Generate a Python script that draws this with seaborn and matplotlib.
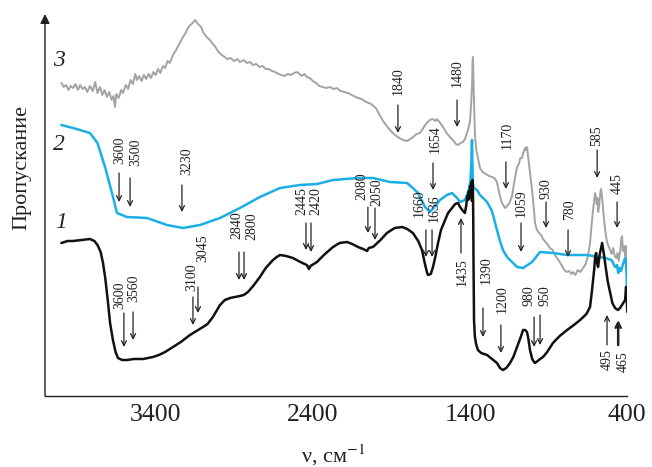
import matplotlib
matplotlib.use("Agg")
import matplotlib.pyplot as plt
import pandas as pd
import seaborn as sns

# ---- spectrum 3 (grey) : wavenumber, cm^-1 / transmittance, arb. units ----
wn_3 = [4000, 3985, 3970, 3955, 3940, 3926, 3910, 3895, 3880, 3865, 3850, 3835, 3818, 3800,
        3785, 3770, 3754, 3740, 3725, 3710, 3695, 3680, 3668, 3659, 3650, 3635, 3620, 3608,
        3590, 3575, 3560, 3545, 3530, 3519, 3505, 3490, 3475, 3460, 3445, 3430, 3415, 3400,
        3385, 3370, 3354, 3340, 3325, 3310, 3290, 3270, 3250, 3230, 3210, 3195, 3180, 3165,
        3150, 3140, 3125, 3110, 3099, 3085, 3070, 3055, 3036, 3020, 3000, 2980, 2960, 2946,
        2925, 2900, 2880, 2864, 2840, 2819, 2800, 2780, 2760, 2740, 2720, 2700, 2680, 2660,
        2640, 2620, 2600, 2580, 2560, 2540, 2520, 2501, 2485, 2470, 2455, 2438, 2420, 2400,
        2380, 2360, 2336, 2315, 2290, 2270, 2247, 2225, 2200, 2180, 2164, 2140, 2113, 2090,
        2060, 2030, 2000, 1975, 1954, 1930, 1910, 1891, 1870, 1850, 1827, 1800, 1770, 1740,
        1720, 1706, 1690, 1670, 1655, 1640, 1620, 1611, 1590, 1572, 1550, 1528, 1510, 1490,
        1477, 1460, 1445, 1433, 1420, 1410, 1401, 1393, 1388, 1384, 1382, 1380, 1377, 1373,
        1368, 1360, 1350, 1337, 1320, 1300, 1280, 1260, 1245, 1229, 1215, 1200, 1185, 1178,
        1165, 1150, 1133, 1118, 1101, 1090, 1080, 1070, 1060, 1051, 1045, 1038, 1031, 1020,
        1006, 995, 987, 975, 960, 945, 936, 920, 905, 892, 875, 860, 847, 830, 815, 800, 785,
        770, 755, 745, 730, 715, 700, 681, 665, 650, 637, 625, 615, 605, 600, 595, 590, 585,
        580, 570, 567, 560, 550, 541, 530, 520, 509, 500, 490, 480, 470, 462, 455, 445, 438,
        433, 428, 420, 414, 408, 404, 400]
tr_3 = [313, 309, 311, 306, 310, 308, 312, 306, 311, 307, 309, 304, 310, 305,
        314, 303, 309, 301, 306, 299, 304, 296, 300, 289, 302, 298, 306, 303,
        311, 307, 316, 312, 322, 316, 320, 315, 321, 317, 322, 318, 324, 321,
        327, 323, 330, 328, 335, 333, 341, 346, 352, 358, 363, 368, 371, 373,
        376, 374, 371, 369, 364, 361, 358, 356, 352, 349, 344, 341, 339, 337,
        338, 335, 337, 334, 336, 333, 334, 331, 332, 329, 330, 327, 327, 325,
        324, 322, 321, 320, 322, 321, 323, 324, 322, 320, 322, 319, 318, 315,
        313, 310, 309, 308, 309, 307, 308, 305, 304, 303, 302, 300, 298, 297,
        294, 292, 288, 281, 275, 270, 266, 263, 260, 258, 256, 255, 258, 262,
        263, 266, 270, 274, 276, 277, 275, 277, 273, 269, 263, 259, 256, 252,
        251, 253, 254, 257, 263, 268, 274, 293, 310, 336, 339, 330, 306, 282,
        258, 246, 238, 228, 224, 222, 220, 219, 218, 214, 203, 194, 190, 188,
        190, 193, 200, 215, 229, 232, 238, 238, 244, 248, 246, 249, 240, 225,
        206, 188, 173, 166, 163, 160, 157, 154, 151, 148, 146, 141, 138, 134, 130, 126, 124,
        125, 122, 124, 121, 126, 124, 128, 132, 140, 153, 175, 190, 203, 199, 192, 198, 184,
        190, 205, 207, 198, 180, 166, 155, 150, 146, 142, 148, 140, 138, 143, 135, 145, 158,
        160, 145, 150, 140, 150, 130, 116]

# ---- spectrum 2 (blue) ----
wn_2 = [4000, 3926, 3818, 3770, 3722, 3678, 3646, 3583, 3455, 3328, 3226, 3118, 2991, 2864,
        2737, 2609, 2482, 2374, 2272, 2113, 2018, 1910, 1801, 1764, 1731, 1687, 1655, 1611,
        1592, 1547, 1515, 1483, 1464, 1433, 1410, 1398, 1392, 1388, 1385, 1382, 1375, 1356,
        1337, 1292, 1261, 1229, 1210, 1191, 1165, 1101, 1063, 1006, 955, 873, 783, 656, 541,
        500, 478, 465, 458, 450, 440, 433, 425, 414, 408, 404, 400]
tr_2 = [271, 268, 263, 253, 229, 203, 183, 179, 178, 171, 168, 171, 178, 188,
        199, 208, 211, 212, 216, 218, 218, 214, 213, 208, 203, 189, 184, 192,
        196, 201, 203, 198, 194, 196, 205, 215, 235, 256, 230, 212, 208, 206,
        201, 194, 185, 166, 155, 146, 139, 129, 128, 134, 144, 143, 141, 141, 138,
        136, 129, 131, 123, 128, 125, 129, 133, 138, 132, 120, 86]

# ---- spectrum 1 (black) ----
wn_1 = [4000, 3960, 3926, 3870, 3818, 3790, 3770, 3750, 3735, 3720, 3703, 3690, 3672, 3655,
        3640, 3614, 3580, 3540, 3480, 3417, 3380, 3340, 3290, 3240, 3182, 3140, 3099, 3070,
        3036, 3010, 2991, 2960, 2927, 2895, 2864, 2840, 2813, 2780, 2737, 2700, 2654, 2630,
        2609, 2570, 2527, 2480, 2438, 2425, 2415, 2374, 2330, 2272, 2230, 2183, 2150, 2113,
        2080, 2055, 2045, 2018, 1970, 1929, 1880, 1833, 1800, 1764, 1730, 1706, 1690, 1675,
        1668, 1650, 1636, 1620, 1604, 1585, 1559, 1540, 1515, 1495, 1477, 1464, 1450, 1440,
        1433, 1425, 1418, 1412, 1408, 1404, 1400, 1396, 1392, 1388, 1385, 1382, 1380, 1378,
        1375, 1370, 1362, 1350, 1330, 1310, 1292, 1260, 1229, 1210, 1191, 1170, 1146, 1125,
        1101, 1080, 1063, 1050, 1038, 1030, 1019, 1005, 993, 987, 970, 955, 936, 910, 873,
        830, 783, 740, 700, 660, 637, 625, 611, 604, 598, 592, 586, 575, 560, 550, 541, 525,
        509, 495, 478, 460, 446, 430, 414, 408, 404, 400]
tr_1 = [153, 155, 155, 156, 157, 155, 151, 144, 133, 117, 93, 73, 56, 44,
        38, 36, 36, 37, 37, 39, 41, 44, 49, 54, 61, 65, 69, 72,
        79, 86, 91, 96, 98, 99, 100, 101, 104, 110, 119, 128, 136, 139,
        141, 140, 138, 134, 131, 127, 130, 134, 141, 149, 153, 154, 152, 149,
        147, 145, 148, 149, 156, 163, 168, 169, 167, 163, 155, 146, 134, 124,
        121, 122, 129, 140, 153, 166, 176, 183, 188, 192, 193, 189, 186, 184,
        183, 190, 200, 196, 205, 198, 210, 200, 214, 195, 216, 205, 180, 130,
        76, 60, 52, 46, 43, 42, 41, 37, 33, 28, 26, 28, 33, 39,
        49, 58, 66, 66, 64, 58, 46, 37, 34, 33, 35, 37, 39, 44, 53,
        60, 66, 71, 76, 82, 89, 105, 126, 140, 143, 133, 129, 142, 153, 143, 133, 115,
        103, 93, 88, 86, 88, 92, 96, 109, 100, 84]

# ---- band labels: text, text x, text y, arrow x, arrow tail y, arrow head y ----
band_labels = [
    ("1840", 1859, 315, 1859, 291, 263), ("1480", 1483, 323, 1483, 296, 269),
    ("1654", 1623, 257, 1636, 233, 206), ("1170", 1165, 261, 1172, 234, 207),
    ("585", 592, 260, 592, 246, 218), ("445", 465, 212, 465, 194, 168),
    ("930", 917, 207, 917, 194, 168), ("780", 765, 186, 777, 166, 139),
    ("1059", 1076, 193, 1076, 173, 144),
    ("3600", 3627, 246, 3633, 223, 194), ("3500", 3525, 244, 3563, 218, 189),
    ("3230", 3201, 235, 3233, 211, 184),
    ("2445", 2470, 195, 2444, 173, 146), ("2420", 2381, 195, 2412, 173, 144),
    ("2080", 2090, 210, 2050, 189, 163), ("2050", 1995, 204, 2005, 188, 156),
    ("1660", 1722, 193, 1681, 166, 139), ("1636", 1627, 188, 1642, 166, 139),
    ("2840", 2886, 171, 2870, 144, 116), ("2800", 2791, 170, 2838, 144, 116),
    ("3100", 3169, 119, 3163, 99, 71), ("3045", 3099, 148, 3131, 109, 83),
    ("3600", 3627, 101, 3602, 83, 49), ("3560", 3538, 108, 3544, 84, 56),
    ("1435", 1452, 124, 1458, 143, 178), ("1390", 1299, 126, 1318, 88, 59),
    ("1200", 1197, 97, 1204, 71, 43), ("980", 1025, 100, 993, 79, 49),
    ("950", 924, 100, 955, 81, 51),
    ("495", 529, 36, 529, 51, 81), ("465", 427, 34, 458, 51, 76),
]
curve_numbers = [("3", 4015, 335), ("2", 4015, 252), ("1", 4002, 173)]
x_ticks = [3400, 2400, 1400, 400]

sns.set_style("white")
plt.rcParams["font.family"] = ["Liberation Serif", "DejaVu Serif"]
plt.rcParams["mathtext.fontset"] = "stix"

W, H = 652, 467
fig = plt.figure(figsize=(W / 100, H / 100), dpi=100)
ax = fig.add_axes([45 / W, 1 - 396 / H, (627.3 - 45) / W, (396 - 14) / H])

spectra = [
    (wn_3, tr_3, "#a3a3a3", 1.4),
    (wn_2, tr_2, "#1aafe6", 1.8),
    (wn_1, tr_1, "#111111", 1.8),
]
for wn, tr, color, lw in spectra:
    df = pd.DataFrame({"wn": wn, "tr": tr})
    sns.lineplot(data=df, x="wn", y="tr", color=color, linewidth=lw,
                 estimator=None, sort=False, ax=ax)

ax.set_xlim(4104, 400)
ax.set_ylim(0, 382)
ax.set_xticks(x_ticks)
ax.set_xticklabels([str(t) for t in x_ticks])
ax.set_yticks([])
ax.set_xlabel("")
ax.set_ylabel("")
ax.tick_params(axis="x", direction="in", length=5.5, width=1, labelsize=18.5, pad=6,
               colors="#222222")
for side in ("top", "right", "left"):
    ax.spines[side].set_visible(False)
ax.spines["bottom"].set_color("#222222")
ax.spines["bottom"].set_linewidth(1)

# vertical axis drawn as an arrow
ax.annotate("", xy=(0, 1), xycoords="axes fraction", xytext=(0, 0),
            arrowprops=dict(arrowstyle="-|>", lw=1, color="#222222",
                            mutation_scale=14, shrinkA=0, shrinkB=0))

for text, tx, ty, axx, tail, head in band_labels:
    ax.text(tx, ty, text, rotation=90, ha="center", va="center",
            fontsize=10, color="#222222")
    bold = text == "465"
    ax.annotate("", xy=(axx, head), xytext=(axx, tail),
                arrowprops=dict(arrowstyle="->", lw=1.8 if bold else 0.9,
                                color="#222222", mutation_scale=9,
                                shrinkA=0, shrinkB=0))

for text, x, y in curve_numbers:
    ax.text(x, y, text, ha="center", va="center", fontsize=17,
            style="italic", color="#222222")

fig.text(22 / W, 1 - 167 / H, "Пропускание", rotation=90, ha="center",
         va="center", fontsize=16, color="#222222")
fig.text(333 / W, 1 - 455 / H, "ν, см$^{-1}$", ha="center", va="center",
         fontsize=16, color="#222222")

fig.savefig("out.png", dpi=100)
